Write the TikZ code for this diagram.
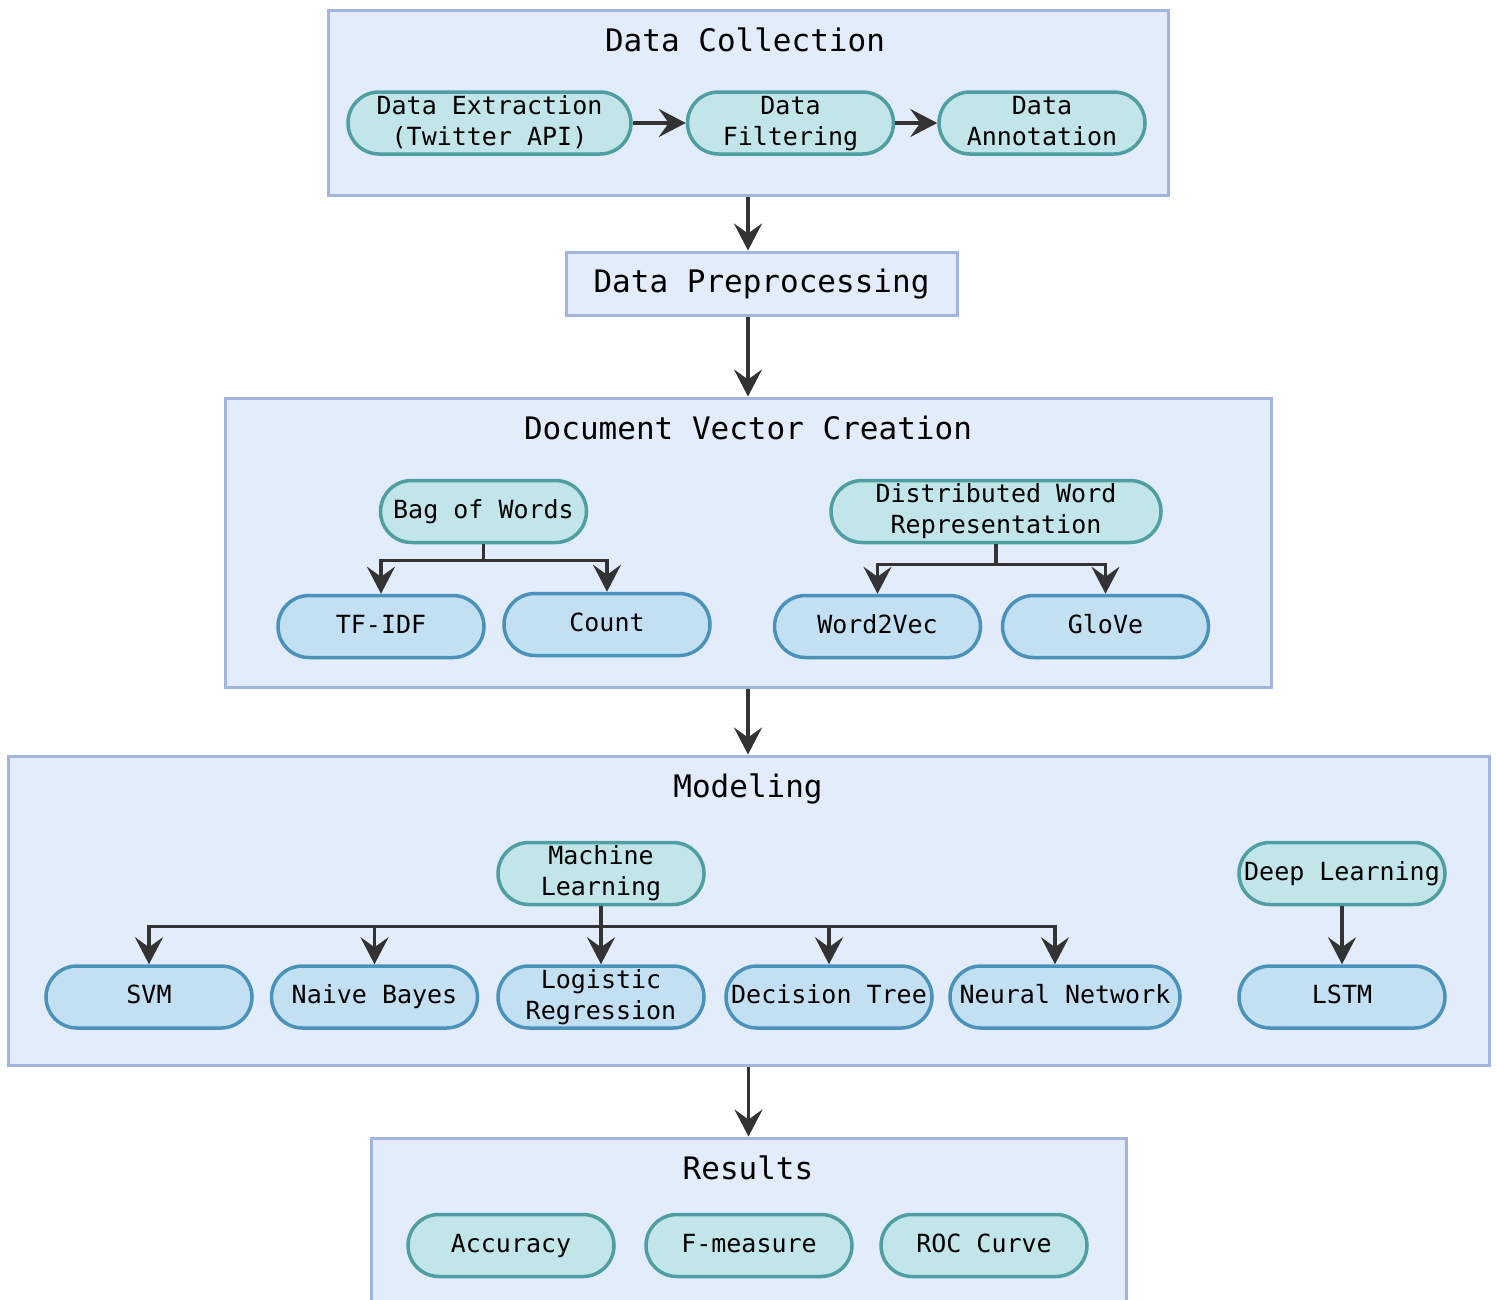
\documentclass[tikz,border=0pt]{standalone}
\usepackage{fontspec}
\setmainfont{DejaVu Sans Mono}
\usetikzlibrary{arrows.meta}

\definecolor{boxfill}{HTML}{E3ECFB}
\definecolor{boxline}{HTML}{A2B5DE}
\definecolor{tealfill}{HTML}{C1E5E9}
\definecolor{tealline}{HTML}{4E9EA2}
\definecolor{leaffill}{HTML}{C2E0F2}
\definecolor{leafline}{HTML}{4A92BA}
\definecolor{arrowcol}{HTML}{333333}

\begin{document}
\begin{tikzpicture}[x=1pt, y=-1pt,
	every node/.style={font=\fontsize{25}{31}\selectfont, align=center, inner sep=0pt,
		text height=18pt, text depth=5pt},
	twoline/.style={text height=49pt, text depth=5pt},
	container/.style={draw=boxline, fill=boxfill, line width=3pt},
	title/.style={font=\fontsize{31}{36}\selectfont, text height=23pt, text depth=6pt},
	group/.style={draw=tealline, fill=tealfill, line width=3.5pt, rounded corners=31pt,
		minimum width=206pt, minimum height=62pt},
	leaf/.style={draw=leafline, fill=leaffill, line width=3.5pt, rounded corners=31pt,
		minimum width=206pt, minimum height=62pt},
	arr/.style={draw=arrowcol, line width=3.5pt, -{Stealth[length=27pt, width=28pt, inset=10pt]}}]
	\useasboundingbox (0,0) rectangle (1497,1299);

	% data collection
	\node[container, minimum width=840pt, minimum height=185pt] (dc) at (748,102.5) {};
	\node[title] (dctitle) at (745,42.5) {Data Collection};
	\node[group, twoline, minimum width=283pt] (dex) at (489.5,123) {Data Extraction\\(Twitter API)};
	\node[group, twoline] (dfil) at (790.5,123) {Data\\Filtering};
	\node[group, twoline] (dann) at (1042,123) {Data\\Annotation};
	\draw[arr] (dex) -- (dfil);
	\draw[arr] (dfil) -- (dann);

	% preprocessing
	\node[container, minimum width=391pt, minimum height=63pt, font=\fontsize{31}{36}\selectfont,
		text height=23pt, text depth=6pt] (dpre) at (761.5,283.5) {Data Preprocessing};
	\draw[arr] (dc.south) -- (dc.south |- dpre.north);

	% document vectors
	\node[container, minimum width=1046pt, minimum height=289pt] (dvc) at (748,542.5) {};
	\node[title] (dvctitle) at (748,430.5) {Document Vector Creation};
	\draw[arr] (dvc.north |- dpre.south) -- (dvc.north);
	\node[group] (bow) at (483.5,511.5) {Bag of Words};
	\node[group, twoline, minimum width=330pt] (dwr) at (996,511.5) {Distributed Word\\Representation};
	\node[leaf] (tfidf) at (381,626.5) {TF-IDF};
	\node[leaf] (count) at (607,624.5) {Count};
	\node[leaf] (w2v) at (877.5,626.5) {Word2Vec};
	\node[leaf] (glove) at (1105.5,626.5) {GloVe};
	\draw[arr] (bow.south) -- ++(0,16) -| (tfidf.north);
	\draw[arr] (bow.south) -- ++(0,16) -| (count.north);
	\draw[arr] (dwr.south) -- ++(0,20) -| (w2v.north);
	\draw[arr] (dwr.south) -- ++(0,20) -| (glove.north);

	% modeling
	\node[container, minimum width=1481pt, minimum height=309pt] (mod) at (748.5,910.5) {};
	\node[title] (modtitle) at (748,788.5) {Modeling};
	\draw[arr] (dvc.south) -- (dvc.south |- mod.north);
	\node[group, twoline] (ml) at (601,873.5) {Machine\\Learning};
	\node[group] (dl) at (1342,873.5) {Deep Learning};
	\node[leaf] (svm) at (149,997) {SVM};
	\node[leaf] (nb) at (374.5,997) {Naive Bayes};
	\node[leaf, twoline] (lr) at (601,997) {Logistic\\Regression};
	\node[leaf] (dt) at (829,997) {Decision Tree};
	\node[leaf, minimum width=230pt] (nn) at (1065,997) {Neural Network};
	\node[leaf] (lstm) at (1342,997) {LSTM};
	\draw[arr] (ml.south) -- ++(0,20) -| (svm.north);
	\draw[arr] (ml.south) -- ++(0,20) -| (nb.north);
	\draw[arr] (ml.south) -- (lr.north);
	\draw[arr] (ml.south) -- ++(0,20) -| (dt.north);
	\draw[arr] (ml.south) -- ++(0,20) -| ([xshift=-10pt]nn.north);
	\draw[arr] (dl) -- (lstm);

	% results
	\node[container, minimum width=755pt, minimum height=180pt] (res) at (748.5,1228) {};
	\node[title] (restitle) at (748,1170.5) {Results};
	\draw[arr] (mod.south) -- (mod.south |- res.north);
	\node[group] (acc) at (511,1245.5) {Accuracy};
	\node[group] (fm) at (749,1245.5) {F-measure};
	\node[group] (roc) at (984,1245.5) {ROC Curve};
\end{tikzpicture}
\end{document}
